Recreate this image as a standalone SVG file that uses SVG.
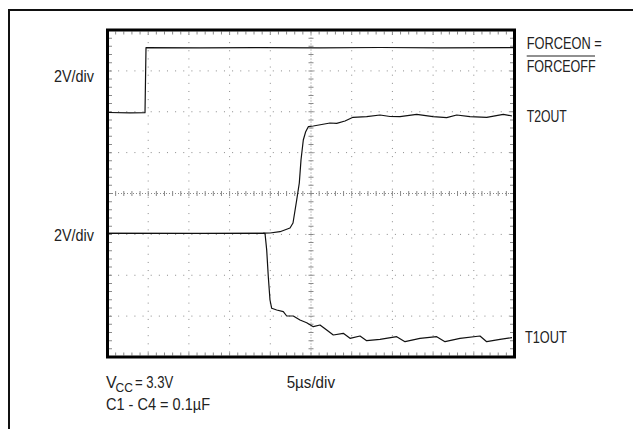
<svg xmlns="http://www.w3.org/2000/svg" width="633" height="429" viewBox="0 0 633 429">
<style>
.t{font-family:"Liberation Sans Narrow","Liberation Sans",Arial,sans-serif;font-size:16px;fill:#222}
.sub{font-size:12px}
.grid{stroke:#8a8a8a;stroke-width:1;stroke-dasharray:1 7.14;fill:none}
.axis{stroke:#8a8a8a;stroke-width:1;stroke-dasharray:1 2;fill:none}
.tick{stroke:#8a8a8a;fill:none;stroke-dasharray:1 7.14}
.tickv{stroke:#8a8a8a;fill:none;stroke-dasharray:1 7.175}
.trace{fill:none;stroke:#111;stroke-width:1.2;stroke-linejoin:round}
</style>
<rect width="633" height="429" fill="#fff"/>
<g id="outer-frame"><rect x="9" y="10" width="640" height="440" fill="none" stroke="#111" stroke-width="2"/></g>
<g id="grid">
<line class="grid" x1="148.2" y1="34" x2="148.2" y2="354"/>
<line class="grid" x1="188.9" y1="34" x2="188.9" y2="354"/>
<line class="grid" x1="229.6" y1="34" x2="229.6" y2="354"/>
<line class="grid" x1="270.3" y1="34" x2="270.3" y2="354"/>
<line class="grid" x1="351.7" y1="34" x2="351.7" y2="354"/>
<line class="grid" x1="392.4" y1="34" x2="392.4" y2="354"/>
<line class="grid" x1="433.1" y1="34" x2="433.1" y2="354"/>
<line class="grid" x1="473.8" y1="34" x2="473.8" y2="354"/>
<line class="grid" x1="110" y1="70.9" x2="512" y2="70.9"/>
<line class="grid" x1="110" y1="111.75" x2="512" y2="111.75"/>
<line class="grid" x1="110" y1="152.6" x2="512" y2="152.6"/>
<line class="grid" x1="110" y1="234.4" x2="512" y2="234.4"/>
<line class="grid" x1="110" y1="275.25" x2="512" y2="275.25"/>
<line class="grid" x1="110" y1="316.1" x2="512" y2="316.1"/>
<line class="axis" x1="109" y1="193.5" x2="513" y2="193.5"/>
<line class="axis" x1="311" y1="31.5" x2="311" y2="355"/>
<line class="tick" stroke-width="5" x1="115.14" y1="193.5" x2="507" y2="193.5"/>
<line class="tickv" stroke-width="5" x1="311" y1="37.68" x2="311" y2="350"/>
<line class="tick" stroke-width="3" x1="115.14" y1="33" x2="507" y2="33"/>
<line class="tick" stroke-width="3" x1="115.14" y1="354" x2="507" y2="354"/>
<line class="tickv" stroke-width="3" x1="110.5" y1="37.68" x2="110.5" y2="350"/>
<line class="tickv" stroke-width="3" x1="511.5" y1="37.68" x2="511.5" y2="350"/>
</g>
<g id="traces">
<polyline id="forceon" class="trace" stroke="#444" stroke-width="1.1" points="109,112.5 130,112.8 145,112.7 146,47.7 200,47.9 260,47.6 320,47.8 380,47.5 440,47.9 513,47.6"/>
<polyline id="t2out" class="trace" points="109,233.3 200,233.5 263,233.2 270,233 280,231.7 290,228 293,223 296.7,200 299.3,183 301,160 303.3,140 305.7,131.7 308.3,126.7 313.3,126 321.7,124.5 330,123 336.7,123.3 345,121 353,117.3 366.7,116.7 380,115 390,116.5 400,116.7 416.7,114.3 433,116.7 446.7,117.7 456.7,115 470,116.7 486.7,117.3 503.3,114.3 512,116"/>
<polyline id="t1out" class="trace" points="109,233.3 200,233.4 265,233.3 266.7,250 268.3,276.7 270,300 271.7,308.3 276.7,310 283.3,311.7 286.7,316 293.3,316 300,320 306.7,322.7 313.3,326.7 320,325 326.7,330 333.3,335 343.3,333.3 350,338.3 360,336 366.7,340.7 380,339.3 396.7,336.7 405,341.7 420,338.3 436.7,336.7 445,341.7 460,338.3 480,336 486.7,341.7 500,339.3 512,337.7"/>
</g>
<g id="scope-frame"><rect x="107.5" y="30" width="407" height="327" fill="none" stroke="#000" stroke-width="3"/></g>
<g id="labels">
<text class="t" x="54" y="81.7" textLength="40" lengthAdjust="spacingAndGlyphs">2V/div</text>
<text class="t" x="54" y="240.7" textLength="40" lengthAdjust="spacingAndGlyphs">2V/div</text>
<text class="t" x="526.7" y="48.5" textLength="75" lengthAdjust="spacingAndGlyphs">FORCEON =</text>
<line x1="526.7" y1="56" x2="595" y2="56" stroke="#222" stroke-width="1.2"/>
<text class="t" x="526.7" y="71.7" textLength="69" lengthAdjust="spacingAndGlyphs">FORCEOFF</text>
<text class="t" x="526.7" y="121.7" textLength="40" lengthAdjust="spacingAndGlyphs">T2OUT</text>
<text class="t" x="525" y="343.3" textLength="41.7" lengthAdjust="spacingAndGlyphs">T1OUT</text>
<text class="t" x="106" y="388.3">V</text>
<text class="t sub" x="115.5" y="391.5">CC</text>
<text class="t" x="135" y="388.3" textLength="38.3" lengthAdjust="spacingAndGlyphs">= 3.3V</text>
<text class="t" x="106" y="410" textLength="104" lengthAdjust="spacingAndGlyphs">C1 - C4 = 0.1µF</text>
<text class="t" x="286.7" y="388.3" textLength="48.3" lengthAdjust="spacingAndGlyphs">5µs/div</text>
</g>
</svg>
